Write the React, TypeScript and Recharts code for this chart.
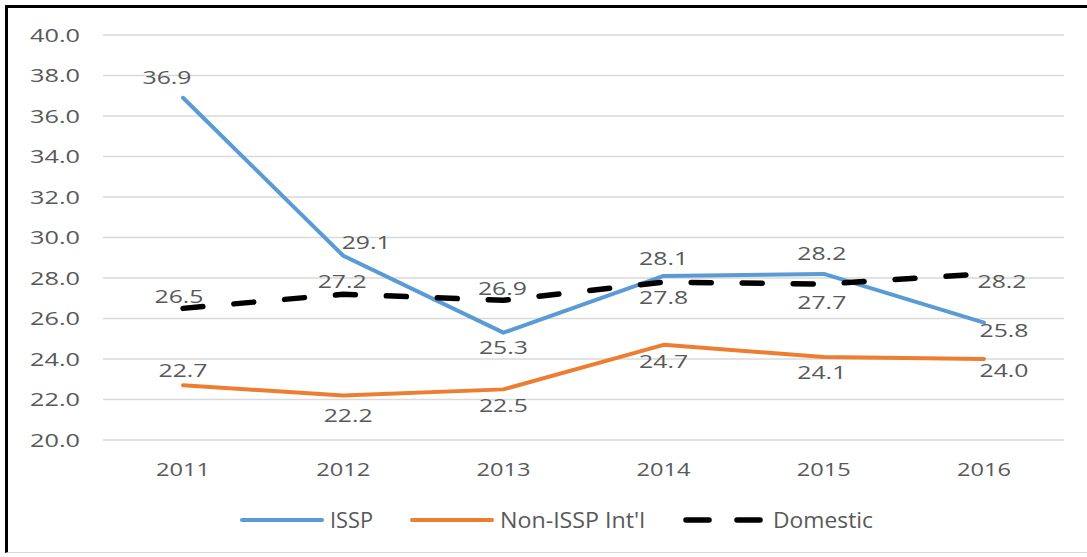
import { LineChart, Line, XAxis, YAxis, CartesianGrid, LabelList } from "recharts";

const YEARS = ["2011", "2012", "2013", "2014", "2015", "2016"];
const ISSP = [36.9, 29.1, 25.3, 28.1, 28.2, 25.8];
const NON_ISSP = [22.7, 22.2, 22.5, 24.7, 24.1, 24.0];
const DOMESTIC = [26.5, 27.2, 26.9, 27.8, 27.7, 28.2];
const Y_TICKS = [20, 22, 24, 26, 28, 30, 32, 34, 36, 38, 40];

const data = YEARS.map((year, i) => ({
  year,
  issp: ISSP[i],
  nonIssp: NON_ISSP[i],
  domestic: DOMESTIC[i],
}));

const BLUE = "#5B9BD5";
const ORANGE = "#ED7D31";
const INK = "#595959";
const GRID = "#D9D9D9";
const FONT = "'Open Sans', sans-serif";

// label nudges from each point [dx, dy], mimicking excel's placement
const ISSP_NUDGE = [[-16, -20], [23, -13], [0, 15], [0, -17], [-2, -20], [20, 8]];
const NON_NUDGE = [[0, -15], [5, 20], [0, 16], [0, 17], [-2, 16], [20, 11]];
const DOM_NUDGE = [[-4, -12], [-1, -13], [-1, -12], [0, 15], [-2, 18], [18, 8]];

function Txt({ x, y, w, anchor = "middle", size = 18, children }: any) {
  return (
    <text
      x={x}
      y={y}
      textAnchor={anchor}
      fontSize={size}
      fontFamily={FONT}
      fill={INK}
      textLength={w}
      lengthAdjust="spacingAndGlyphs"
    >
      {children}
    </text>
  );
}

const valueLabel = (nudge: number[][]) => (p: any) => {
  const [dx, dy] = nudge[p.index] ?? [0, -15];
  return (
    <Txt key={p.index} x={p.x + dx} y={p.y + dy + 6.5} w={49}>
      {Number(p.value).toFixed(1)}
    </Txt>
  );
};

function Legend() {
  return (
    <svg width={1087} height={557} style={{ position: "absolute", left: 0, top: 0, pointerEvents: "none" }}>
      <line x1={242} x2={322} y1={520} y2={520} stroke={BLUE} strokeWidth={4} strokeLinecap="round" />
      <Txt x={330} y={528} w={43} size={21} anchor="start">ISSP</Txt>
      <line x1={412} x2={492} y1={520} y2={520} stroke={ORANGE} strokeWidth={4} strokeLinecap="round" />
      <Txt x={500} y={528} w={145} size={21} anchor="start">Non-ISSP Int'l</Txt>
      <line x1={686} x2={760} y1={520} y2={520} stroke="#000" strokeWidth={5.5} strokeLinecap="round" strokeDasharray="23 28" />
      <Txt x={773} y={528} w={100} size={21} anchor="start">Domestic</Txt>
    </svg>
  );
}

export default function App() {
  return (
    <div style={{ position: "absolute", left: 0, top: 0, width: 1087, height: 557, background: "#fff" }}>
      <div
        style={{
          position: "absolute",
          left: 5,
          top: 5,
          width: 1082,
          height: 548,
          borderLeft: "3px solid #000",
          borderTop: "3px solid #000",
          borderBottom: "1px solid #D9D9D9",
          boxSizing: "border-box",
        }}
      />
      <LineChart
        width={1087}
        height={557}
        data={data}
        margin={{ top: 35, right: 23, bottom: 77, left: 0 }}
        style={{ position: "absolute", left: 0, top: 0 }}
      >
        <CartesianGrid stroke={GRID} strokeWidth={1.3} vertical={false} />
        <XAxis
          dataKey="year"
          height={40}
          padding={{ left: 80, right: 80 }}
          axisLine={false}
          tickLine={false}
          interval={0}
          tick={(p: any) => (
            <Txt key={p.index} x={p.x} y={476} w={54}>{p.payload.value}</Txt>
          )}
        />
        <YAxis
          width={103}
          domain={[20, 40]}
          ticks={Y_TICKS}
          axisLine={false}
          tickLine={false}
          interval={0}
          tick={(p: any) => (
            <Txt key={p.index} x={80} y={p.y + 6.5} w={50} anchor="end">
              {Number(p.payload.value).toFixed(1)}
            </Txt>
          )}
        />
        <Line
          dataKey="issp"
          stroke={BLUE}
          strokeWidth={4}
          strokeLinejoin="round"
          strokeLinecap="round"
          dot={false}
          isAnimationActive={false}
        >
          <LabelList dataKey="issp" content={valueLabel(ISSP_NUDGE)} />
        </Line>
        <Line
          dataKey="nonIssp"
          stroke={ORANGE}
          strokeWidth={4}
          strokeLinejoin="round"
          strokeLinecap="round"
          dot={false}
          isAnimationActive={false}
        >
          <LabelList dataKey="nonIssp" content={valueLabel(NON_NUDGE)} />
        </Line>
        <Line
          dataKey="domestic"
          stroke="#000"
          strokeWidth={5.5}
          strokeDasharray="20 31"
          strokeLinecap="round"
          dot={false}
          isAnimationActive={false}
        >
          <LabelList dataKey="domestic" content={valueLabel(DOM_NUDGE)} />
        </Line>
      </LineChart>
      <Legend />
    </div>
  );
}
